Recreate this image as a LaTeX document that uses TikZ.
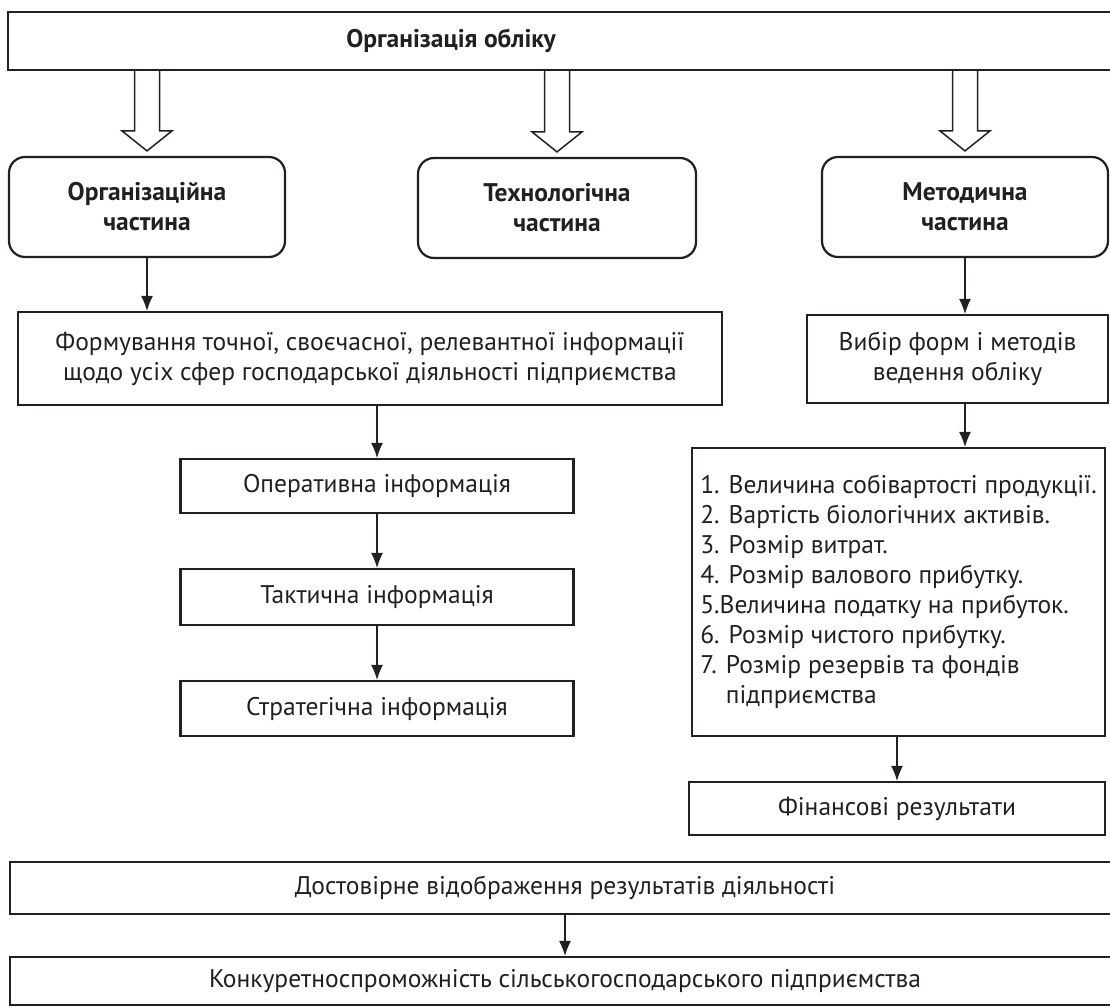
\documentclass[tikz,border=0pt]{standalone}
\usepackage{fontspec}
\setmainfont{PT Sans}
\usepackage{tikz}
\usetikzlibrary{calc,arrows.meta}
\definecolor{ink}{HTML}{231F20}
\newcommand{\dsize}{\fontsize{25.5}{30}\selectfont}
\tikzset{
  box/.style={draw=ink, line width=2.2pt, text=ink, align=center, inner sep=0pt, font=\dsize},
  rbox/.style={box, rounded corners=16pt, font=\dsize\bfseries},
  btxt/.style={text=ink, font=\dsize\bfseries},
  arr/.style={draw=ink, line width=1.2pt, -{Latex[length=15pt,width=12pt]}},
  hollow/.style={draw=ink, line width=1.5pt, fill=white, line join=miter}
}

\begin{document}
\begin{tikzpicture}[x=1pt,y=-1pt]
  \useasboundingbox (0,0) rectangle (1110,1007);

  \node[box, minimum width=1112, minimum height=58] (org) at (564,41) {};
  \node[btxt] (orgtitle) at (451,41) {Організація обліку};

  \node[rbox, minimum width=276, minimum height=100] (orgpart) at (147,207) {Організаційна\\частина};
  \node[rbox, minimum width=278, minimum height=100] (techpart) at (557,208) {Технологічна\\частина};
  \node[rbox, minimum width=286, minimum height=100] (methpart) at (965,207) {Методична\\частина};

  \foreach \p in {orgpart,techpart,methpart}
    \draw[hollow] ($(org.south -| \p.north)+(-12.5,0)$) -- ($(\p.north)+(-12.5,-25)$)
      -- ($(\p.north)+(-25,-25)$) -- ($(\p.north)+(0,-5)$) -- ($(\p.north)+(25,-25)$)
      -- ($(\p.north)+(12.5,-25)$) -- ($(org.south -| \p.north)+(12.5,0)$);

  \node[box, minimum width=704, minimum height=93] (form) at (370,358.5)
    {Формування точної, своєчасної, релевантної інформації\\щодо усіх сфер господарської діяльності підприємства};
  \node[box, minimum width=393, minimum height=54] (oper) at (377,486) {Оперативна інформація};
  \node[box, minimum width=393, minimum height=56] (tact) at (377,597) {Тактична інформація};
  \node[box, minimum width=393, minimum height=55] (strat) at (377,708.5) {Стратегічна інформація};

  \node[box, minimum width=301, minimum height=88] (choice) at (957.5,359) {Вибір форм і методів\\ведення обліку};
  \node[box, align=left, minimum width=413, minimum height=288] (list) at (898.5,592)
    {1. Величина собівартості продукції.\\
     2. Вартість біологічних активів.\\
     3. Розмір витрат.\\
     4. Розмір валового прибутку.\\
     5.Величина податку на прибуток.\\
     6. Розмір чистого прибутку.\\
     7. Розмір резервів та фондів\\
     \phantom{7. }підприємства};
  \node[box, minimum width=416, minimum height=53] (finres) at (897,808.5) {Фінансові результати};

  \node[box, minimum width=1110, minimum height=52] (reliable) at (565,888) {Достовірне відображення результатів діяльності};
  \node[box, minimum width=1110, minimum height=48] (compet) at (565,981) {Конкуретноспроможність сільськогосподарського підприємства};

  \draw[arr] (orgpart.south) -- (orgpart.south |- form.north);
  \draw[arr] (form.south -| oper.north) -- (oper.north);
  \draw[arr] (oper.south) -- (tact.north);
  \draw[arr] (tact.south) -- (strat.north);
  \draw[arr] (methpart.south) -- (methpart.south |- choice.north);
  \draw[arr] (choice.south -| methpart.south) -- (methpart.south |- list.north);
  \draw[arr] (list.south -| finres.north) -- (finres.north);
  \draw[arr] (reliable.south) -- (compet.north);
\end{tikzpicture}
\end{document}
